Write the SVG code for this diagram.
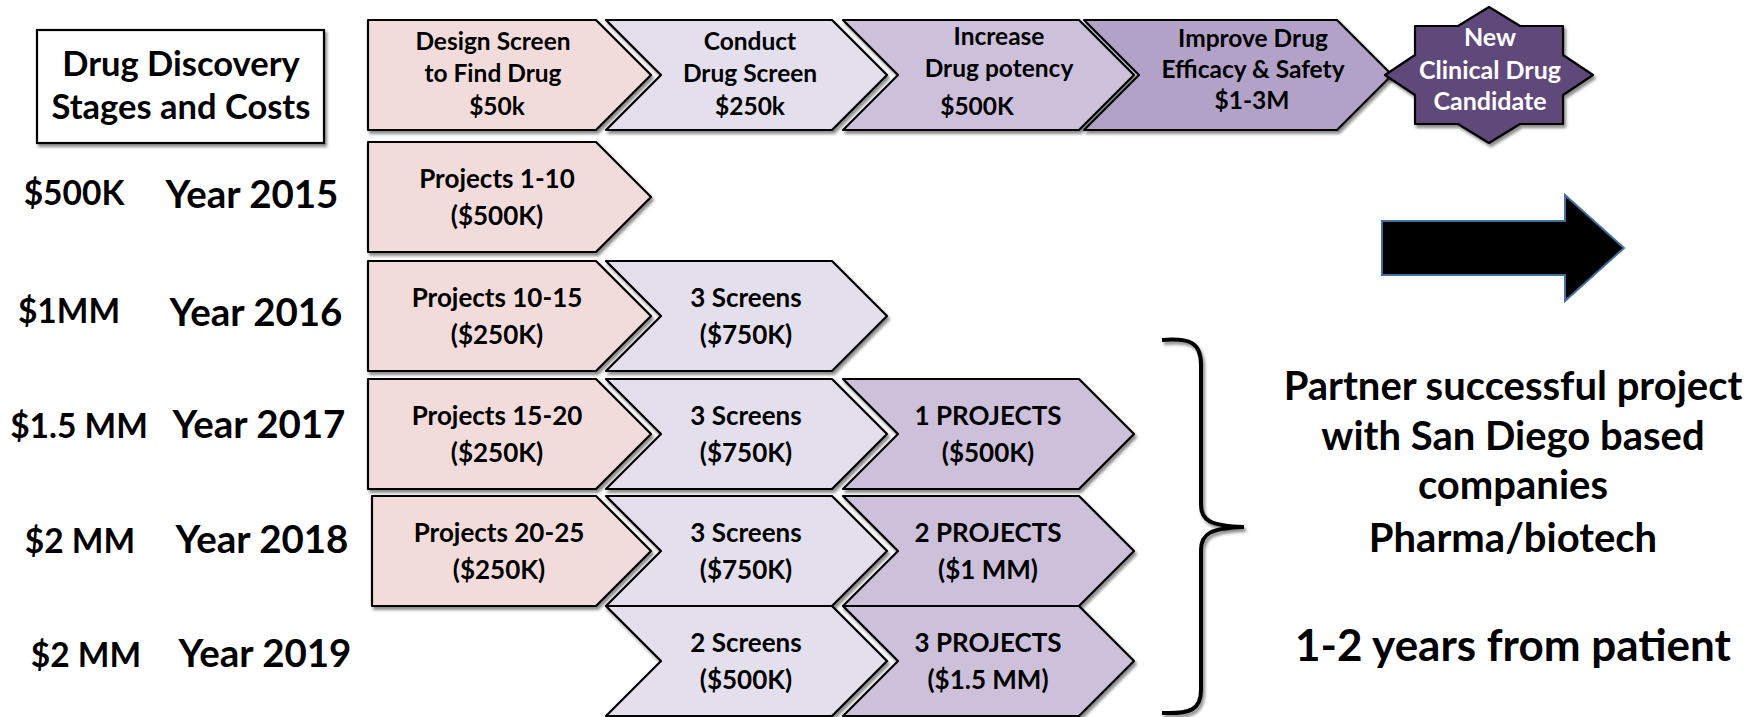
<svg xmlns="http://www.w3.org/2000/svg" width="1760" height="717" viewBox="0 0 1760 717">
<defs>
<filter id="sh" x="-10%" y="-10%" width="120%" height="130%">
<feDropShadow dx="2" dy="3" stdDeviation="1.8" flood-color="#000" flood-opacity="0.45"/>
</filter>
<style>
.t{font-family:Lato,"Liberation Sans",sans-serif;font-weight:700;text-anchor:middle;fill:#000}
.w{fill:#fff}
.f23{font-size:24.5px}
.fs{font-size:25px}
.f26{font-size:26px}
.f33{font-size:33.5px}
.ft{font-size:34.5px}
.f37{font-size:38.5px}
.f40{font-size:40px}
.f44{font-size:44px}
.sh{stroke:#000;stroke-width:2.2;stroke-linejoin:round;filter:url(#sh)}
.c1{fill:#F2DCDB}
.c2{fill:#E4DFEC}
.c3{fill:#CCC0DA}
.c4{fill:#B2A2C7}
.star{fill:#5F497A}
</style>
</defs>
<rect width="1760" height="717" fill="#fff"/>

<g id="title">
<rect x="37" y="30" width="287" height="113" fill="#fff" stroke="#000" stroke-width="2.2" filter="url(#sh)"/>
<text class="t ft" x="181" y="76">Drug Discovery</text>
<text class="t ft" x="181" y="119">Stages and Costs</text>
</g>

<g id="stage-design">
<path class="sh c1" d="M368,20 H596 L651,75 L596,130 H368 Z"/>
<text class="t f23" x="493" y="50">Design Screen</text>
<text class="t f23" x="493" y="82">to Find Drug</text>
<text class="t f23" x="497" y="115">$50k</text>
</g>
<g id="stage-conduct">
<path class="sh c2" d="M606,20 H832 L887,75 L832,130 H606 L661,75 Z"/>
<text class="t f23" x="750" y="50">Conduct</text>
<text class="t f23" x="750" y="82">Drug Screen</text>
<text class="t f23" x="750" y="115">$250k</text>
</g>
<g id="stage-potency">
<path class="sh c3" d="M843,20 H1079 L1134,75 L1079,130 H843 L898,75 Z"/>
<text class="t f23" x="999" y="45">Increase</text>
<text class="t f23" x="999" y="77">Drug potency</text>
<text class="t f23" x="977" y="115">$500K</text>
</g>
<g id="stage-efficacy">
<path class="sh c4" d="M1084,20 H1337 L1392,75 L1337,130 H1084 L1139,75 Z"/>
<text class="t f23" x="1253" y="47">Improve Drug</text>
<text class="t f23" x="1253" y="78">Efficacy &amp; Safety</text>
<text class="t f23" x="1252" y="109">$1-3M</text>
</g>
<g id="candidate">
<polygon class="sh star" points="1593,75 1563,95 1563,124 1520,124 1489,143 1458,124 1415,124 1415,95 1385,75 1415,55 1415,26 1458,26 1489,7 1520,26 1563,26 1563,55"/>
<text class="t fs w" x="1490" y="46">New</text>
<text class="t fs w" x="1490" y="79">Clinical Drug</text>
<text class="t fs w" x="1490" y="110">Candidate</text>
</g>

<g id="row-2015">
<text class="t f33" x="74" y="205">$500K</text>
<text class="t f37" x="252" y="208">Year 2015</text>
<path class="sh c1" d="M368,142 H596 L651,197 L596,252 H368 Z"/>
<text class="t f26" x="497" y="188">Projects 1-10</text>
<text class="t f26" x="497" y="225">($500K)</text>
</g>

<g id="row-2016">
<text class="t f33" x="69" y="323">$1MM</text>
<text class="t f37" x="256" y="326">Year 2016</text>
<path class="sh c1" d="M368,261 H596 L651,316 L596,371 H368 Z"/>
<text class="t f26" x="497" y="307">Projects 10-15</text>
<text class="t f26" x="497" y="344">($250K)</text>
<path class="sh c2" d="M606,261 H832 L887,316 L832,371 H606 L661,316 Z"/>
<text class="t f26" x="746" y="307">3 Screens</text>
<text class="t f26" x="746" y="344">($750K)</text>
</g>

<g id="row-2017">
<text class="t f33" x="79" y="438">$1.5 MM</text>
<text class="t f37" x="259" y="438">Year 2017</text>
<path class="sh c1" d="M368,379 H596 L651,434 L596,489 H368 Z"/>
<text class="t f26" x="497" y="425">Projects 15-20</text>
<text class="t f26" x="497" y="462">($250K)</text>
<path class="sh c2" d="M606,379 H832 L887,434 L832,489 H606 L661,434 Z"/>
<text class="t f26" x="746" y="425">3 Screens</text>
<text class="t f26" x="746" y="462">($750K)</text>
<path class="sh c3" d="M843,379 H1079 L1134,434 L1079,489 H843 L898,434 Z"/>
<text class="t f26" x="988" y="425">1 PROJECTS</text>
<text class="t f26" x="988" y="462">($500K)</text>
</g>

<g id="row-2018">
<text class="t f33" x="80" y="553">$2 MM</text>
<text class="t f37" x="262" y="553">Year 2018</text>
<path class="sh c1" d="M372,496 H596 L651,551 L596,606 H372 Z"/>
<text class="t f26" x="499" y="542">Projects 20-25</text>
<text class="t f26" x="499" y="579">($250K)</text>
<path class="sh c2" d="M606,496 H832 L887,551 L832,606 H606 L661,551 Z"/>
<text class="t f26" x="746" y="542">3 Screens</text>
<text class="t f26" x="746" y="579">($750K)</text>
<path class="sh c3" d="M843,496 H1079 L1134,551 L1079,606 H843 L898,551 Z"/>
<text class="t f26" x="988" y="542">2 PROJECTS</text>
<text class="t f26" x="988" y="579">($1 MM)</text>
</g>

<g id="row-2019">
<text class="t f33" x="86" y="667">$2 MM</text>
<text class="t f37" x="265" y="667">Year 2019</text>
<path class="sh c2" d="M606,606 H832 L887,661 L832,716 H606 L661,661 Z"/>
<text class="t f26" x="746" y="652">2 Screens</text>
<text class="t f26" x="746" y="689">($500K)</text>
<path class="sh c3" d="M843,606 H1079 L1134,661 L1079,716 H843 L898,661 Z"/>
<text class="t f26" x="988" y="652">3 PROJECTS</text>
<text class="t f26" x="988" y="689">($1.5 MM)</text>
</g>

<g id="connectors">
<path d="M1162,340 C1190,338 1201,342 1201,365 V505 C1201,520 1210,526 1244,527 C1210,528 1201,534 1201,550 V690 C1201,710 1190,714 1162,713" fill="none" stroke="#000" stroke-width="4" filter="url(#sh)"/>
<path d="M1382,221 H1565 V195 L1624,248 L1565,301 V275 H1382 Z" fill="#000" stroke="#41719C" stroke-width="2"/>
</g>

<g id="partner">
<text class="t f40" x="1513" y="400">Partner successful project</text>
<text class="t f40" x="1513" y="450">with San Diego based</text>
<text class="t f40" x="1513" y="499">companies</text>
<text class="t f40" x="1513" y="552">Pharma/biotech</text>
<text class="t f44" x="1513" y="661">1-2 years from patient</text>
</g>
</svg>
